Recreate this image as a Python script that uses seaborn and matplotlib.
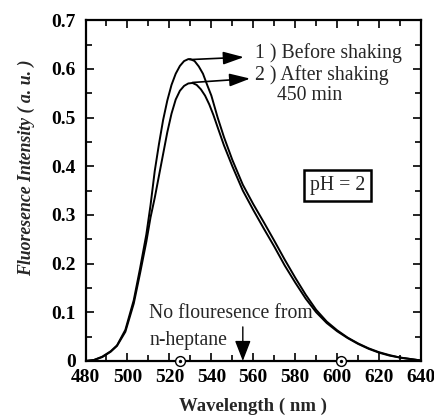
import matplotlib
matplotlib.use("Agg")
import matplotlib.pyplot as plt
import seaborn as sns
import pandas as pd
from matplotlib.ticker import MultipleLocator, FuncFormatter

# ---- data ----
wl_before = [480, 484, 488, 492, 495, 499, 503, 506, 509, 511, 513, 515, 517, 519, 521,
             523, 525, 527, 529, 530, 532, 534, 536, 538, 540, 543, 546, 550, 555, 560,
             565, 570, 575, 580, 585, 590, 595, 600, 605, 610, 615, 620, 625, 630, 635, 640]
int_before = [0.0, 0.002, 0.009, 0.02, 0.032, 0.064, 0.125, 0.19, 0.26, 0.32, 0.39, 0.445,
              0.495, 0.535, 0.567, 0.59, 0.606, 0.616, 0.62, 0.62, 0.616, 0.605, 0.59, 0.567,
              0.545, 0.5, 0.46, 0.413, 0.362, 0.322, 0.285, 0.247, 0.208, 0.171, 0.136, 0.105,
              0.081, 0.063, 0.048, 0.036, 0.026, 0.018, 0.012, 0.007, 0.004, 0.001]
wl_after = [480, 484, 488, 492, 495, 499, 503, 506, 509, 511, 513, 515, 517, 519, 521,
            523, 525, 527, 529, 531, 533, 535, 537, 539, 541, 543, 546, 550, 555, 560,
            565, 570, 575, 580, 585, 590, 595, 600, 605, 610, 615, 620, 625, 630, 635, 640]
int_after = [0.0, 0.002, 0.008, 0.019, 0.031, 0.06, 0.118, 0.18, 0.245, 0.295, 0.335, 0.38,
             0.425, 0.47, 0.508, 0.537, 0.555, 0.565, 0.57, 0.571, 0.567, 0.558, 0.545, 0.527,
             0.505, 0.48, 0.443, 0.4, 0.35, 0.31, 0.272, 0.235, 0.196, 0.161, 0.128, 0.1,
             0.078, 0.061, 0.047, 0.035, 0.025, 0.017, 0.011, 0.007, 0.004, 0.001]
marker_wl = [525, 602]
x_ticks = [480, 500, 520, 540, 560, 580, 600, 620, 640]
y_ticks = [0, 0.1, 0.2, 0.3, 0.4, 0.5, 0.6, 0.7]

sns.set_theme(style="ticks")
plt.rcParams["font.family"] = ["Liberation Serif", "DejaVu Serif"]

df = pd.concat([
    pd.DataFrame({"wl": wl_before, "I": int_before, "s": "before"}),
    pd.DataFrame({"wl": wl_after, "I": int_after, "s": "after"}),
])

fig = plt.figure(figsize=(4.35, 4.2), dpi=100)
ax = fig.add_axes([0.1966, 0.1405, 0.7714, 0.8115])
sns.lineplot(data=df, x="wl", y="I", hue="s", palette=["black", "black"],
             linewidth=1.4, legend=False, ax=ax, sort=False)

ax.set_xlim(480, 640)
ax.set_ylim(0, 0.7)
ax.set_xticks(x_ticks)
ax.set_yticks(y_ticks)
ax.xaxis.set_minor_locator(MultipleLocator(10))
ax.yaxis.set_minor_locator(MultipleLocator(0.05))
ax.yaxis.set_major_formatter(FuncFormatter(lambda v, p: "0" if abs(v) < 1e-9 else f"{v:.1f}"))
ax.tick_params(which="both", direction="in", top=True, right=True, width=1.2, colors="black")
ax.tick_params(which="major", length=6, labelsize=14)
ax.tick_params(axis="x", which="major", pad=6)
ax.tick_params(axis="y", which="major", pad=7)
ax.tick_params(which="minor", length=4)
for lab in ax.get_xticklabels() + ax.get_yticklabels():
    lab.set_fontweight("bold")
for sp in ax.spines.values():
    sp.set_linewidth(1.6)
    sp.set_color("black")

ax.set_xlabel("Wavelength ( nm )", fontsize=13.5, fontweight="bold", labelpad=8)
ax.set_ylabel("Fluoresence Intensity ( a. u. )", fontsize=12.8, fontweight="bold",
              fontstyle="italic")
ax.yaxis.set_label_coords(-0.15, 0.566)

arrow = dict(arrowstyle="-|>,head_length=0.9,head_width=0.28", color="black", lw=1.2,
             mutation_scale=14, shrinkA=0, shrinkB=0)
ax.annotate("", xy=(555.5, 0.624), xytext=(529.7, 0.619), arrowprops=arrow)
ax.annotate("", xy=(558.5, 0.58), xytext=(531.0, 0.572), arrowprops=arrow)
ax.text(560.6, 0.633, "1 ) Before shaking", fontsize=14.2, ha="left", va="center")
ax.text(560.6, 0.587, "2 ) After shaking", fontsize=14.2, ha="left", va="center")
ax.text(571.3, 0.546, "450 min", fontsize=14.2, ha="left", va="center")

ax.text(600, 0.361, "pH = 2", fontsize=14.2, ha="center", va="center",
        bbox=dict(boxstyle="square,pad=0.3", fc="white", ec="black", lw=1.8))

ax.text(510.5, 0.098, "No flouresence from", fontsize=14.2, ha="left", va="center")
ax.text(510.5, 0.043, "n-heptane", fontsize=14.2, ha="left", va="center")
ax.annotate("", xy=(555, 0.0), xytext=(555, 0.07),
            arrowprops=dict(arrowstyle="-|>,head_length=0.9,head_width=0.35", color="black",
                            lw=1.0, mutation_scale=14, shrinkA=0, shrinkB=0))

ax.scatter(marker_wl, [0, 0], s=50, facecolor="white", edgecolor="black", linewidth=1.0,
           zorder=5, clip_on=False)
ax.scatter(marker_wl, [0, 0], s=2, color="black", zorder=6, clip_on=False)

fig.savefig("out.png", dpi=100)
